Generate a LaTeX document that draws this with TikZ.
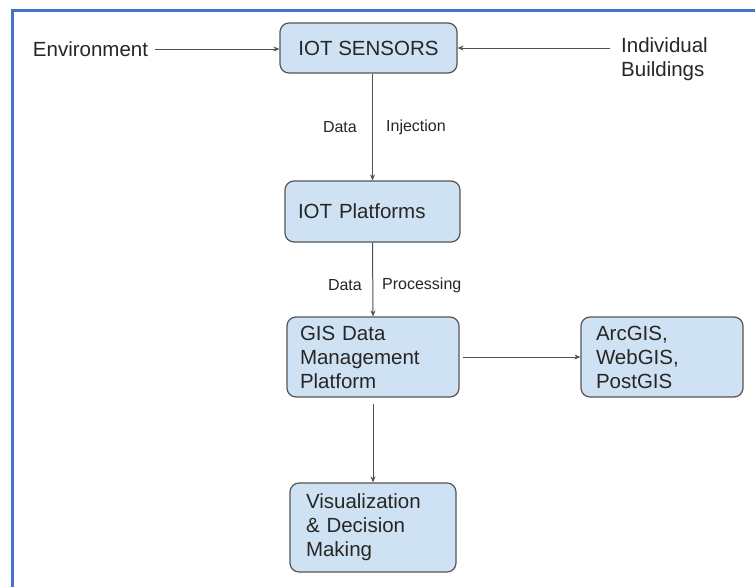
\documentclass[tikz,border=0pt]{standalone}
\usepackage{fontspec}
\setmainfont{Liberation Sans}
\usetikzlibrary{arrows.meta}
\definecolor{boxfill}{HTML}{CFE2F3}
\definecolor{boxline}{HTML}{555555}
\definecolor{lineclr}{HTML}{505050}
\definecolor{txt}{HTML}{262626}
\definecolor{frameblue}{RGB}{68,114,196}
\begin{document}
\begin{tikzpicture}[x=1pt,y=-1pt,
  every node/.style={text=txt, font=\fontsize{20.5}{24}\selectfont},
  box/.style={draw=boxline, fill=boxfill, line width=1.2pt, rounded corners=9pt},
  lbox/.style={box, align=left, inner ysep=0pt},
  lab/.style={font=\fontsize{16}{19}\selectfont, inner sep=0pt},
  arr/.style={draw=lineclr, line width=1pt, -{Stealth[length=6pt,width=5pt]}},
  ln/.style={draw=lineclr, line width=1pt}]
\useasboundingbox (0,0) rectangle (755,587);
\fill[white] (0,0) rectangle (755,587);
\draw[frameblue, line width=3pt] (12,587) -- (12,10) -- (755,10);

\node[box, minimum width=177pt, minimum height=50pt, inner sep=0pt] (sens) at (368.5,48) {IOT SENSORS};
\node[lbox, inner xsep=13pt, text width=149pt, minimum height=61pt] (plat) at (372.5,211.5) {IOT Platforms};
\node[lbox, inner xsep=13pt, text width=146pt, minimum height=80pt] (gis) at (373,357) {GIS Data\\Management\\Platform};
\node[lbox, inner xsep=15pt, text width=132pt, minimum height=80pt] (arc) at (662,357) {ArcGIS,\\WebGIS,\\PostGIS};
\node[lbox, inner xsep=16pt, text width=134pt, minimum height=89pt] (vis) at (373,527.5) {Visualization\\\& Decision\\Making};

\node[inner xsep=7pt, inner ysep=0pt] (env) at (90.5,49) {Environment};
\node[align=left, inner xsep=11pt, inner ysep=0pt] (ind) at (664.5,59.5) {Individual\\Buildings};

\node[lab, anchor=east] (d1) at (357,127) {Data};
\node[lab, anchor=west] (inj) at (386,127) {Injection};
\node[lab, anchor=east] (d2) at (362,285) {Data};
\node[lab, anchor=west] (proc) at (382,285) {Processing};

\draw[arr] (env.east) -- (env.east -| sens.west);
\draw[arr] (ind.west |- sens.east) -- (sens.east);
\draw[arr] (sens.south -| plat.north) -- (plat.north);
\draw[arr] (plat.south) -- (gis.north);
\draw[arr, shorten <=3pt] (gis.east) -- (arc.west);
\draw[arr, shorten <=6pt] (gis.south) -- (vis.north);
\end{tikzpicture}
\end{document}
